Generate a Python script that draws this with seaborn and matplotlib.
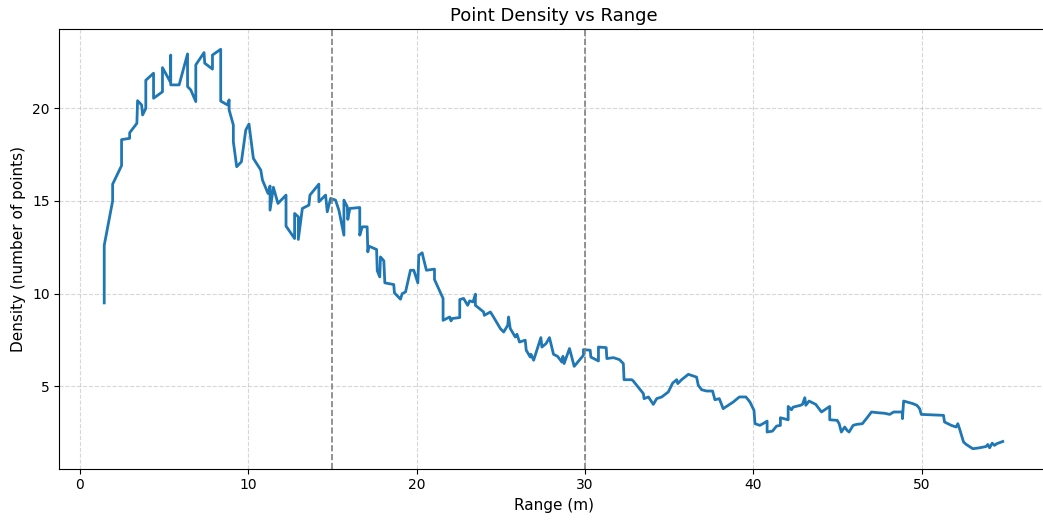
import matplotlib
matplotlib.use("Agg")
import matplotlib.pyplot as plt
import seaborn as sns
import pandas as pd

range_m = [
    1.44, 1.44, 1.94, 1.94, 2.47, 2.47, 2.95, 2.95, 3.38, 3.42, 3.66, 3.72, 3.91, 3.91, 4.37, 4.37,
    4.9, 4.9, 5.36, 5.39, 5.39, 5.89, 6.39, 6.39, 6.58, 6.88, 6.88, 7.37, 7.41, 7.87, 7.87, 8.36,
    8.36, 8.76, 8.86, 8.86, 9.11, 9.11, 9.31, 9.59, 9.85, 10.04,
    10.3, 10.74, 10.84, 11.17, 11.29, 11.29, 11.49, 11.76, 12.24, 12.24, 12.75, 12.75, 12.97, 12.97,
    13.21, 13.6, 13.66, 14.19, 14.19, 14.59, 14.69, 14.89, 15.18, 15.38, 15.68, 15.68, 15.88, 15.91,
    16.03, 16.62, 16.62, 16.77, 17.06, 17.1, 17.16, 17.62, 17.66, 17.81, 17.85, 18.05, 18.11, 18.64,
    18.68, 19.04, 19.14, 19.34, 19.63, 19.83, 20.07, 20.13, 20.33,
    20.39, 20.58, 21.06, 21.06, 21.57, 21.57, 21.96, 22.04, 22.12, 22.56, 22.56, 22.79, 23.03, 23.15,
    23.35, 23.49, 23.49, 23.98, 24.02, 24.38, 24.54, 24.97, 25.17, 25.41, 25.46, 25.56, 25.86, 25.96,
    26.11, 26.45, 26.51, 26.75, 26.79, 26.95, 27.14, 27.38, 27.44, 27.69, 27.89, 28.13, 28.37, 28.63,
    28.69, 28.76, 29.08, 29.36, 29.91, 29.91,
    30.31, 30.35, 30.8, 30.8, 31.26, 31.3, 31.69, 32.05, 32.28, 32.32, 32.78, 32.87, 33.07, 33.47,
    33.51, 33.77, 34.06, 34.26, 34.56, 34.95, 35.21, 35.45, 35.51, 35.74, 36.14, 36.63, 36.73, 36.93,
    37.23, 37.58, 37.72, 37.98, 38.21, 38.81, 39.17, 39.56, 39.8, 40.04, 40.1, 40.39,
    40.63, 40.82, 40.82, 41.14, 41.38, 41.61, 41.61, 42.07, 42.07, 42.27, 42.36, 42.8, 42.92, 43.06,
    43.12, 43.31, 43.71, 44.05, 44.54, 44.54, 44.98, 45.1, 45.23, 45.43, 45.57, 45.69, 45.93, 46.13,
    46.48, 46.76, 47.02, 47.41, 47.81, 48.1, 48.34, 48.86, 48.86, 48.93, 49.48, 49.72, 49.88, 49.98,
    51.3, 51.36, 51.76, 52.05, 52.15, 52.25, 52.49, 52.65, 53.04, 53.44, 53.83, 53.93, 54.04, 54.19,
    54.33, 54.46, 54.82,
]

density = [
    9.5, 12.6, 15.0, 15.9, 16.9, 18.3, 18.37, 18.67, 19.18, 20.4, 20.17, 19.63, 19.99, 21.5, 21.88, 20.53,
    20.88, 22.18, 21.42, 22.86, 21.25, 21.25, 22.92, 21.16, 20.98, 20.35, 22.33, 22.99, 22.42, 22.1, 22.86, 23.17,
    20.38, 20.17, 20.44, 19.9, 19.09, 18.19, 16.84, 17.11, 18.82, 19.14,
    17.29, 16.66, 16.12, 15.4, 15.8, 14.5, 15.73, 14.86, 15.31, 13.64, 12.97, 14.32, 14.14, 12.92,
    14.59, 14.77, 15.31, 15.9, 14.95, 15.31, 14.41, 15.13, 15.04, 14.5, 13.15, 15.04, 14.68, 14.0,
    14.59, 14.64, 13.15, 13.6, 13.6, 12.25, 12.56, 12.38, 11.23, 10.9, 11.98, 11.77, 10.58, 10.49,
    10.04, 9.7, 10.0, 10.09, 11.26, 11.26, 10.58, 12.07, 12.2,
    11.95, 11.26, 11.32, 10.76, 9.74, 8.56, 8.74, 8.53, 8.66, 8.71, 9.68, 9.74, 9.37, 9.61,
    9.55, 9.97, 9.37, 9.01, 8.83, 9.01, 8.78, 8.12, 7.93, 8.29, 8.74, 8.12, 7.66, 7.81,
    7.39, 7.49, 6.95, 6.58, 6.73, 6.41, 6.95, 7.63, 7.12, 7.31, 7.63, 6.73, 6.62, 6.31,
    6.62, 6.23, 7.04, 6.08, 6.68, 6.98,
    6.95, 6.58, 6.37, 7.12, 7.09, 6.5, 6.55, 6.44, 6.23, 5.36, 5.36, 5.29, 5.06, 4.61,
    4.34, 4.43, 4.03, 4.34, 4.43, 4.7, 5.18, 5.36, 5.15, 5.36, 5.65, 5.5, 5.06, 4.82,
    4.75, 4.75, 4.28, 4.34, 3.8, 4.16, 4.43, 4.43, 4.16, 3.71, 2.99, 2.9,
    3.02, 3.13, 2.54, 2.59, 2.86, 2.9, 3.31, 3.2, 3.92, 3.74, 3.88, 3.98, 4.03, 4.39,
    3.98, 4.21, 4.03, 3.62, 3.92, 3.2, 3.17, 2.99, 2.54, 2.81, 2.63, 2.54, 2.9, 2.95,
    2.99, 3.31, 3.62, 3.58, 3.55, 3.49, 3.62, 3.62, 3.26, 4.21, 4.07, 3.98, 3.8, 3.49,
    3.44, 3.08, 2.9, 2.81, 2.99, 2.72, 2.0, 1.87, 1.64, 1.69, 1.76, 1.87, 1.69, 1.94,
    1.82, 1.91, 2.03,
]

range_markers = [15, 30]

df = pd.DataFrame({"range": range_m, "density": density})

plt.rcParams['font.family'] = ['DejaVu Sans']
fig = plt.figure(figsize=(10.43, 5.21), dpi=100)
ax = fig.add_axes([59.3 / 1043, 1 - 468.7 / 521, (1047.7 - 59.3) / 1043, (468.7 - 29.3) / 521])

sns.lineplot(data=df, x="range", y="density", sort=False, estimator=None,
             color="#1f77b4", linewidth=2, ax=ax)

for xm in range_markers:
    ax.axvline(xm, color="gray", linestyle="--", linewidth=1.2)

ax.grid(True, linestyle="--", alpha=0.5)
ax.set_axisbelow(True)
ax.spines["right"].set_visible(False)
ax.set_title("Point Density vs Range", fontsize=13)
ax.set_xlabel("Range (m)", fontsize=11)
ax.set_ylabel("Density (number of points)", fontsize=11)
ax.tick_params(labelsize=10)

fig.savefig("out.png", dpi=100)
